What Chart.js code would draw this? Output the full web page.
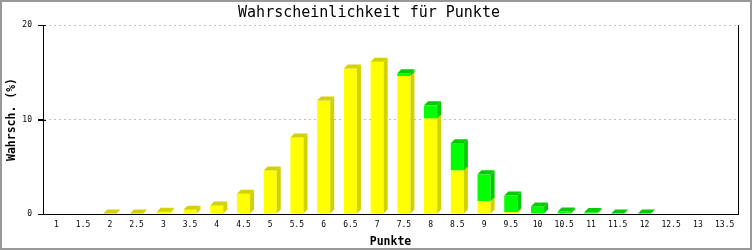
<!DOCTYPE html>
<html>
<head>
<meta charset="utf-8">
<script src="https://cdn.jsdelivr.net/npm/chart.js@4.4.0/dist/chart.umd.min.js"></script>
<style>
  html, body { margin: 0; padding: 0; background: #fff; }
  #wrap { width: 753px; height: 250px; }
</style>
</head>
<body>
<div id="wrap"><canvas id="chart" width="753" height="250"></canvas></div>
<script>
// categories (points) and the two stacked series, in percent
const points = ['1', '1.5', '2', '2.5', '3', '3.5', '4', '4.5', '5', '5.5', '6', '6.5', '7',
  '7.5', '8', '8.5', '9', '9.5', '10', '10.5', '11', '11.5', '12', '12.5', '13', '13.5'];
const yellowValues = [null, null, 0.05, 0.05, 0.25, 0.45, 0.9, 2.15, 4.6, 8.1, 12.0, 15.4, 16.1,
  14.6, 10.1, 4.6, 1.35, 0.2, null, null, null, null, null, null, null, null];
const greenValues = [null, null, null, null, null, null, null, null, null, null, null, null, null,
  0.3, 1.4, 2.9, 2.85, 1.75, 0.8, 0.26, 0.2, 0.05, 0.05, null, null, null];
const yTicks = [0, 10, 20];

const frontColors = ['#ffff00', '#00ff00'];
const sideColors = ['#d2d200', '#00cc00'];
const mono = 'DejaVu Sans Mono';

// draws the side and top faces of each bar so it looks 3D
const bar3d = {
  id: 'bar3d',
  afterDatasetsDraw(chart) {
    const ctx = chart.ctx;
    const d = 4;
    const metas = chart.data.datasets.map((_, k) => chart.getDatasetMeta(k));
    ctx.save();
    points.forEach((_, i) => {
      let top = null;
      metas.forEach((meta, k) => {
        const v = chart.data.datasets[k].data[i];
        if (!v) return;
        const bar = meta.data[i];
        const right = bar.x + bar.width / 2;
        ctx.fillStyle = sideColors[k];
        ctx.beginPath();
        ctx.moveTo(right, bar.base);
        ctx.lineTo(right, bar.y);
        ctx.lineTo(right + d, bar.y - d);
        ctx.lineTo(right + d, bar.base - d);
        ctx.closePath();
        ctx.fill();
        top = { bar, k };
      });
      if (top) {
        const bar = top.bar;
        const left = bar.x - bar.width / 2, right = bar.x + bar.width / 2;
        ctx.fillStyle = sideColors[top.k];
        ctx.beginPath();
        ctx.moveTo(left, bar.y);
        ctx.lineTo(left + d, bar.y - d);
        ctx.lineTo(right + d, bar.y - d);
        ctx.lineTo(right, bar.y);
        ctx.closePath();
        ctx.fill();
      }
    });
    ctx.restore();
  },
  afterDraw(chart) {
    const ctx = chart.ctx;
    const a = chart.chartArea;
    const y = chart.scales.y;
    ctx.save();
    ctx.strokeStyle = '#000';
    ctx.lineWidth = 1;
    // y tick marks crossing the axis
    yTicks.forEach(v => {
      const py = Math.round(y.getPixelForValue(v)) + 0.5;
      ctx.beginPath();
      ctx.moveTo(a.left - 5, py);
      ctx.lineTo(a.left + 3, py);
      ctx.stroke();
    });
    // right frame line of the plot
    ctx.beginPath();
    ctx.moveTo(Math.round(a.right) + 0.5, a.top);
    ctx.lineTo(Math.round(a.right) + 0.5, a.bottom);
    ctx.stroke();
    // outer grey frame
    ctx.strokeStyle = '#999';
    ctx.lineWidth = 2;
    ctx.strokeRect(1, 1, 750, 248);
    ctx.restore();
  }
};

new Chart(document.getElementById('chart'), {
  type: 'bar',
  data: {
    labels: points,
    datasets: [
      { data: yellowValues, backgroundColor: frontColors[0], barPercentage: 0.49, categoryPercentage: 1 },
      { data: greenValues, backgroundColor: frontColors[1], barPercentage: 0.49, categoryPercentage: 1 }
    ]
  },
  options: {
    responsive: false,
    animation: false,
    layout: { padding: { left: 0, right: 15, top: 0, bottom: 0 } },
    plugins: {
      legend: { display: false },
      tooltip: { enabled: false },
      title: {
        display: true,
        text: 'Wahrscheinlichkeit für Punkte',
        color: '#000',
        font: { family: mono, size: 15, weight: 'normal' },
        padding: { top: 4, bottom: 3 }
      }
    },
    scales: {
      x: {
        stacked: true,
        grid: { display: false, drawTicks: false },
        border: { display: true, color: '#000', width: 1 },
        ticks: { color: '#000', font: { family: mono, size: 8 }, padding: 6, maxRotation: 0, autoSkip: false },
        title: {
          display: true, text: 'Punkte', color: '#000',
          font: { family: mono, size: 11.5, weight: 'bold' },
          padding: { top: 0, bottom: 1 }
        },
        afterFit(scale) { scale.height = 36; }
      },
      y: {
        stacked: true,
        min: 0,
        max: 20,
        afterBuildTicks(scale) { scale.ticks = yTicks.map(v => ({ value: v })); },
        grid: {
          color: ctx => ctx.tick && ctx.tick.value === 0 ? 'rgba(0,0,0,0)' : '#c0c0c0',
          tickColor: '#000',
          tickLength: 5,
          tickBorderDash: []
        },
        border: { display: true, color: '#000', width: 1, dash: [2, 3] },
        ticks: { color: '#000', font: { family: mono, size: 8 }, padding: 6 },
        title: {
          display: true, text: 'Wahrsch. (%)', color: '#000',
          font: { family: mono, size: 11.5, weight: 'bold' },
          padding: { top: 5, bottom: 0 }
        },
        afterFit(scale) { scale.width = 43; }
      }
    }
  },
  plugins: [bar3d]
});
</script>
</body>
</html>
